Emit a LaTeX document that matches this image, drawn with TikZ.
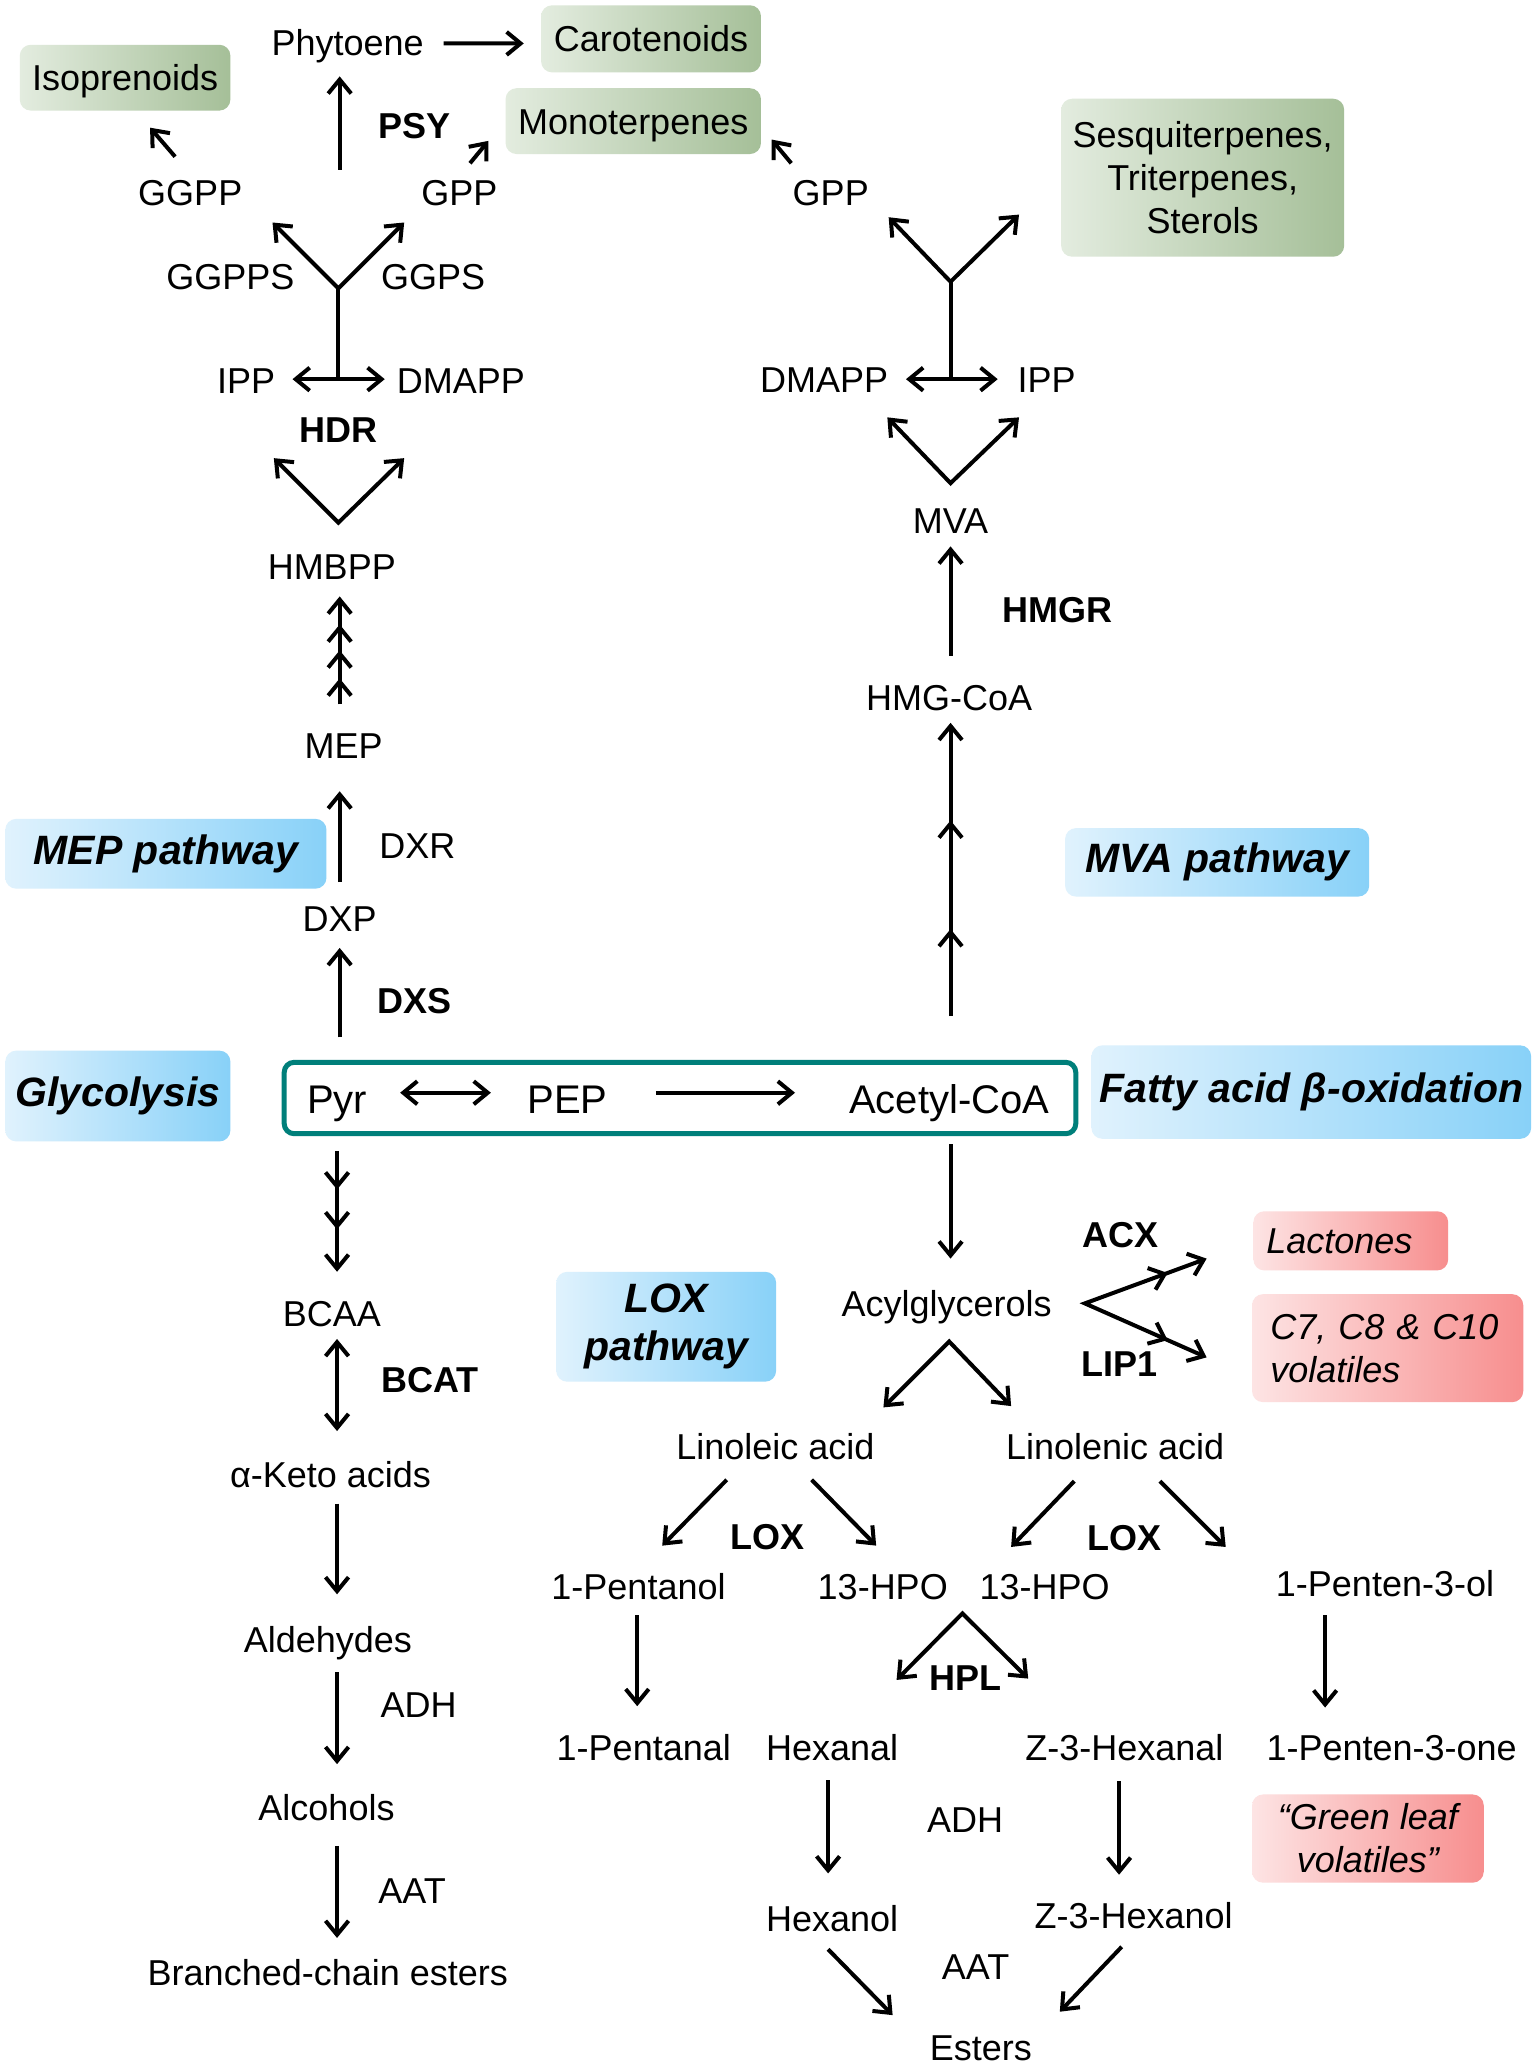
\documentclass[tikz,border=0pt]{standalone}
\usepackage{fontspec}
\setmainfont{Liberation Sans}
\usetikzlibrary{arrows.meta,calc,decorations.markings}
\definecolor{gL}{HTML}{E3ECDF}
\definecolor{gR}{HTML}{A5BF98}
\definecolor{bL}{HTML}{E0F2FD}
\definecolor{bR}{HTML}{88D1F8}
\definecolor{rL}{HTML}{FDE4E4}
\definecolor{rR}{HTML}{F78E8E}
\definecolor{tealbox}{HTML}{007F7A}
\tikzset{
  >={Straight Barb[length=14bp,width=23bp]},
  arr/.style={line width=4bp,->},
  darr/.style={line width=4bp,<->},
  ln/.style={line width=4bp},
  t/.style={inner sep=0pt,font=\fontsize{36bp}{43bp}\selectfont,text height=26bp,text depth=0pt},
  tb/.style={inner sep=0pt,font=\fontsize{36bp}{43bp}\selectfont\bfseries,text height=26bp,text depth=0pt},
  tl/.style={inner sep=0pt,font=\fontsize{40bp}{48bp}\selectfont,text height=29bp,text depth=0pt},
  boxbase/.style={rounded corners=11bp,inner sep=0pt,align=center},
  gbox/.style={boxbase,left color=gL,right color=gR,font=\fontsize{36bp}{43bp}\selectfont},
  gone/.style={gbox,text height=26bp,text depth=0pt},
  bbox/.style={boxbase,left color=bL,right color=bR,font=\fontsize{41bp}{48bp}\selectfont\bfseries\itshape},
  rbox/.style={boxbase,left color=rL,right color=rR,font=\fontsize{36bp}{43bp}\selectfont\itshape},
  headstwo/.style args={#1 and #2}{postaction={decorate,decoration={markings,
      mark=at position #1 with {\arrow{>}},
      mark=at position #2 with {\arrow{>}}}}},
  headsthree/.style args={#1 and #2 and #3}{postaction={decorate,decoration={markings,
      mark=at position #1 with {\arrow{>}},
      mark=at position #2 with {\arrow{>}},
      mark=at position #3 with {\arrow{>}}}}},
}
\begin{document}
\begin{tikzpicture}[x=1.3165bp,y=-1.3165bp]
\fill[white] (0,0) rectangle (1166,1568.5);
\useasboundingbox (0,0) rectangle (1166,1568.5);

% ---------- boxes ----------
\node[gone,minimum width=210.6bp,minimum height=65.8bp] (iso) at (95,59) {Isoprenoids};
\node[gone,minimum width=219.9bp,minimum height=67.1bp] (caro) at (494.5,29.5) {Carotenoids};
\node[gone,minimum width=255.4bp,minimum height=65.8bp] (mono) at (481,92) {Monoterpenes};
\node[gbox,minimum width=283bp,minimum height=158bp] (sesq) at (913.5,135) {Sesquiterpenes,\\Triterpenes,\\Sterols};
\node[bbox,minimum width=321.2bp,minimum height=69.8bp] (meppw) at (126,648.5) {MEP pathway};
\node[bbox,minimum width=304.1bp,minimum height=68.5bp] (mvapw) at (924.5,655) {MVA pathway};
\node[bbox,minimum width=225.1bp,minimum height=90.8bp] (glyc) at (89.5,832.5) {Glycolysis};
\node[bbox,minimum width=439.7bp,minimum height=93.5bp] (fa) at (996,829.5) {Fatty acid β-oxidation};
\node[draw=tealbox,line width=5bp,rounded corners=10bp,minimum width=791.5bp,minimum height=71.4bp,outer sep=0pt,inner sep=0pt] (mainbox) at (516.5,834) {};
\node[bbox,minimum width=219.9bp,minimum height=109.9bp] (loxpw) at (506,1007.75) {LOX\\pathway};
\node[rbox,minimum width=194.8bp,minimum height=59.2bp,text width=168.8bp,align=left] (lact) at (1026,942.5) {Lactones};
\node[rbox,minimum width=271.2bp,minimum height=108bp,text width=234.4bp,align=left] (c7) at (1054,1024) {C7, C8 \& C10\\volatiles};
\node[rbox,minimum width=231.7bp,minimum height=88.2bp] (glv) at (1039,1396.5) {“Green leaf\\volatiles”};

% ---------- texts: MEP side ----------
\node[t] (phy) at (264,32) {Phytoene};
\node[tb] (psy) at (315,95) {PSY};
\node[t] (ggpp) at (144.5,146) {GGPP};
\node[t] (gppl) at (349,146) {GPP};
\node[t] (ggpps) at (175,210) {GGPPS};
\node[t] (ggps) at (329,210) {GGPS};
\node[t] (ippl) at (187,289) {IPP};
\node[t] (dmappl) at (350,289) {DMAPP};
\node[tb] (hdr) at (257,326) {HDR};
\node[t] (hmbpp) at (252,430) {HMBPP};
\node[t] (mep) at (261,566) {MEP};
\node[t] (dxr) at (317,642) {DXR};
\node[t] (dxp) at (258,698) {DXP};
\node[tb] (dxs) at (315,760) {DXS};

% ---------- texts: MVA side ----------
\node[t] (gppr) at (631,146) {GPP};
\node[t] (dmappr) at (626,288) {DMAPP};
\node[t] (ippr) at (795,288) {IPP};
\node[t] (mva) at (722,395) {MVA};
\node[tb] (hmgr) at (803,463) {HMGR};
\node[t] (hmg) at (721,530) {HMG-CoA};

% ---------- main row ----------
\node[tl] (pyr) at (256,835) {Pyr};
\node[tl] (pep) at (431,835) {PEP};
\node[tl] (accoa) at (721,835) {Acetyl-CoA};

% ---------- amino acid branch ----------
\node[t] (bcaa) at (252,998) {BCAA};
\node[tb] (bcat) at (326.5,1047.5) {BCAT};
\node[t] (keto) at (251,1120) {α-Keto acids};
\node[t] (ald) at (249,1245) {Aldehydes};
\node[t] (adhl) at (318,1295) {ADH};
\node[t] (alc) at (248,1373) {Alcohols};
\node[t] (aatl) at (313,1436) {AAT};
\node[t] (bce) at (249,1498) {Branched-chain esters};

% ---------- LOX branch ----------
\node[t] (acyl) at (719,990) {Acylglycerols};
\node[tb] (acx) at (851,938) {ACX};
\node[tb] (lip) at (850,1036) {LIP1};
\node[t] (linoleic) at (589,1099) {Linoleic acid};
\node[t] (linolenic) at (847,1099) {Linolenic acid};
\node[tb] (lox1) at (583,1167) {LOX};
\node[tb] (lox2) at (854,1168) {LOX};
\node[t] (pentanol) at (485,1205) {1-Pentanol};
\node[t] (hpo1) at (670.5,1205) {13-HPO};
\node[t] (hpo2) at (793.5,1205) {13-HPO};
\node[t] (penten3ol) at (1052,1203) {1-Penten-3-ol};
\node[tb] (hpl) at (733,1274) {HPL};
\node[t] (pentanal) at (489,1327) {1-Pentanal};
\node[t] (hexanal) at (632,1327) {Hexanal};
\node[t] (z3al) at (854,1327) {Z-3-Hexanal};
\node[t] (penten3one) at (1057,1327) {1-Penten-3-one};
\node[t] (adhr) at (733,1382) {ADH};
\node[t] (hexanol) at (632,1457) {Hexanol};
\node[t] (z3ol) at (861,1455) {Z-3-Hexanol};
\node[t] (aatr) at (741,1494) {AAT};
\node[t] (esters) at (745,1555) {Esters};

% ---------- junction coordinates ----------
\coordinate (psyS) at (258,129);
\coordinate (j1) at (257,219);
\coordinate (j1a) at (207,169);
\coordinate (j1b) at (307,169);
\coordinate (v1) at (257,397);
\coordinate (v1a) at (208,348);
\coordinate (v1b) at (307,348);
\coordinate (j2) at (722,214);
\coordinate (j2a) at (675,165);
\coordinate (j2b) at (774,163);
\coordinate (v2) at (722,367);
\coordinate (v2a) at (674,317);
\coordinate (v2b) at (774,317);
\coordinate (fk) at (824,990);
\coordinate (fka) at (916.5,956);
\coordinate (fkb) at (916.5,1031);
\coordinate (v3) at (721,1019);
\coordinate (v3a) at (671,1069);
\coordinate (v3b) at (768,1068);
\coordinate (hplv) at (731,1225.5);
\coordinate (hpla) at (681,1276);
\coordinate (hplb) at (781,1275);

% ---------- connectors: top left ----------
\draw[arr] ($(phy.east)+(15,1)$) -- ($(caro.west)+(-13,3.5)$);
\draw[arr] (psyS) -- ($(psyS |- phy.south)+(0,16)$);
\draw[arr] ($(ggpp)+(-11.5,-27)$) -- ($(iso)+(19,38)$);
\draw[arr] ($(gppl)+(8,-22)$) -- ($(mono)+(-110,15)$);
\draw[darr] (j1a) -- (j1) -- (j1b);
\draw[ln] (j1) -- ($(j1 |- ippl)+(0,-1)$);
\draw[darr] ($(ippl.east)+(13,-1)$) -- ($(dmappl.west)+(-9,-1)$);
\draw[darr] (v1a) -- (v1) -- (v1b);
\draw[arr,headsthree={0.24 and 0.5 and 0.74}] ($(dxp |- mep.north)+(0,-21)$) -- ($(dxp |- hmbpp.south)+(0,13)$);
\draw[arr] ($(dxp.north)+(0,-18)$) -- ($(dxp |- mep.south)+(0,25)$);
\draw[arr] ($(dxp |- mainbox.north)+(0,-19)$) -- ($(dxp.south)+(0,12)$);

% ---------- connectors: top right ----------
\draw[arr] ($(gppr)+(-30,-22)$) -- ($(mono)+(105,14)$);
\draw[darr] (j2a) -- (j2) -- (j2b);
\draw[ln] (j2) -- (j2 |- ippr);
\draw[darr] ($(dmappr.east)+(13.4,0)$) -- ($(ippr.west)+(-15,0)$);
\draw[darr] (v2a) -- (v2) -- (v2b);
\draw[arr] ($(mva |- hmg.north)+(0,-22)$) -- ($(mva.south)+(0,10)$);
\draw[arr,headstwo={0.297 and 0.667}] ($(mva |- mainbox.north)+(0,-35)$) -- ($(mva |- hmg.south)+(0,9)$);

% ---------- connectors: main row ----------
\draw[darr] ($(pyr.east)+(25,-5)$) -- ($(pep.west)+(-27.6,-5)$);
\draw[arr] ($(pep.east)+(36.6,-5)$) -- ($(accoa.west)+(-41,-5)$);

% ---------- connectors: amino acid branch ----------
\draw[arr,headstwo={0.32 and 0.65}] ($(pyr |- mainbox.south)+(0,13)$) -- ($(pyr |- bcaa.north)+(0,-22)$);
\draw[darr] ($(pyr |- bcaa.south)+(0,9)$) -- ($(pyr |- keto.north)+(0,-23)$);
\draw[arr] ($(pyr |- keto.south)+(0,12)$) -- ($(pyr |- ald.north)+(0,-24)$);
\draw[arr] ($(pyr |- ald.south)+(0,15)$) -- ($(pyr |- alc.north)+(0,-23)$);
\draw[arr] ($(pyr |- alc.south)+(0,19)$) -- ($(pyr |- bce.north)+(0,-16)$);

% ---------- connectors: LOX branch ----------
\draw[arr] ($(mva |- mainbox.south)+(0,8)$) -- ($(mva |- acyl.north)+(0,-24)$);
\draw[darr,postaction={decorate,decoration={markings,
    mark=at position 0.158 with {\arrowreversed{>}},
    mark=at position 0.838 with {\arrow{>}}}}] (fka) -- (fk) -- (fkb);
\draw[darr] (v3a) -- (v3) -- (v3b);
\draw[arr] ($(linoleic)+(-37,25)$) -- ($(pentanol)+(18,-31)$);
\draw[arr] ($(linoleic)+(27.5,25)$) -- ($(hpo1)+(-5,-31)$);
\draw[arr] ($(linolenic)+(-31,26)$) -- ($(hpo2)+(-25.5,-30)$);
\draw[arr] ($(linolenic)+(34,26)$) -- ($(penten3ol)+(-121,-28)$);
\draw[arr] ($(pentanol.south)+(-1,12)$) -- ($(pentanol.south |- pentanal.north)+(-1,-21)$);
\draw[darr] (hpla) -- (hplv) -- (hplb);
\draw[arr] ($(penten3ol.south)+(-45.5,14)$) -- ($(penten3ol.south |- penten3one.north)+(-45.5,-20)$);
\draw[arr] ($(hexanal.south)+(-3,15)$) -- ($(hexanal.south |- hexanol.north)+(-3,-24)$);
\draw[arr] ($(z3al.south)+(-4,16)$) -- ($(z3al.south |- z3ol.north)+(-4,-21)$);
\draw[arr] ($(hexanol)+(-3,23.6)$) -- ($(esters)+(-67,-24.4)$);
\draw[arr] ($(z3ol)+(-9,23.7)$) -- ($(esters)+(60,-27)$);
\end{tikzpicture}
\end{document}
